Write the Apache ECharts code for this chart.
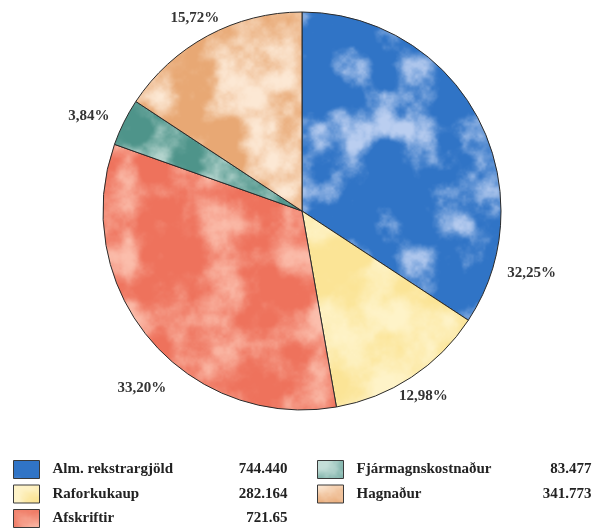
<!DOCTYPE html>
<html>
<head>
<meta charset="utf-8">
<script src="https://cdn.jsdelivr.net/npm/echarts@6/dist/echarts.min.js"></script>
<style>
html,body{margin:0;padding:0;background:#fff;}
#chart{width:600px;height:529px;}
</style>
</head>
<body>
<div id="chart"></div>
<script>
// ---- data ----
const categories = ['Alm. rekstrargjöld', 'Raforkukaup', 'Afskriftir', 'Fjármagnskostnaður', 'Hagnaður'];
const values = [744440, 282164, 721650, 83477, 341773];
const valueLabels = ['744.440', '282.164', '721.65', '83.477', '341.773'];
const percentLabels = ['32,25%', '12,98%', '33,20%', '3,84%', '15,72%'];
const legendCol1 = ['Alm. rekstrargjöld', 'Raforkukaup', 'Afskriftir'];
const legendCol2 = ['Fjármagnskostnaður', 'Hagnaður'];

// ---- styling ----
const palette = [
  {base: [48, 116, 198], light: [186, 206, 240], lo: 0.46, hi: 0.82, freq: 6},
  {base: [251, 228, 150], light: [254, 243, 200], lo: 0.36, hi: 0.80, freq: 6},
  {base: [238, 114, 92], light: [251, 190, 172], lo: 0.34, hi: 0.80, freq: 6},
  {base: [78, 148, 138], light: [196, 222, 216], lo: 0.36, hi: 0.80, freq: 6},
  {base: [232, 168, 116], light: [252, 232, 212], lo: 0.38, hi: 0.80, freq: 6}
];
const labelOffsets = [[29, 170], [-4, -5], [14, 30], [-9, 7], [1, 8]];
const FONT = '"Liberation Serif", "DejaVu Serif", serif';

function makeCloud(p, seed) {
  const S = 192;
  const c = document.createElement('canvas');
  c.width = c.height = S;
  const ctx = c.getContext('2d');
  const img = ctx.createImageData(S, S);
  function hash(x, y, per) {
    x = ((x % per) + per) % per; y = ((y % per) + per) % per;
    let h = Math.imul(x, 374761393) ^ Math.imul(y, 668265263) ^ Math.imul(seed + 1, 144665);
    h = Math.imul(h ^ (h >>> 13), 1274126177);
    h = h ^ (h >>> 16);
    return (h >>> 0) / 4294967295;
  }
  function noise(x, y, per) {
    const xi = Math.floor(x), yi = Math.floor(y);
    const xf = x - xi, yf = y - yi;
    const u = xf * xf * (3 - 2 * xf), v = yf * yf * (3 - 2 * yf);
    const a = hash(xi, yi, per), b = hash(xi + 1, yi, per), c2 = hash(xi, yi + 1, per), d = hash(xi + 1, yi + 1, per);
    return a + (b - a) * u + (c2 - a) * v + (a - b - c2 + d) * u * v;
  }
  for (let y = 0; y < S; y++) {
    for (let x = 0; x < S; x++) {
      let n = 0, amp = 0.5, f = p.freq, tot = 0;
      for (let o = 0; o < 5; o++) {
        n += amp * noise(x / S * f, y / S * f, f);
        tot += amp; amp *= 0.45; f *= 2;
      }
      n /= tot;
      let t = (n - p.lo) / (p.hi - p.lo);
      t = Math.max(0, Math.min(1, t));
      t = t * t * (3 - 2 * t);
      const i = (y * S + x) * 4;
      img.data[i] = p.base[0] + (p.light[0] - p.base[0]) * t;
      img.data[i + 1] = p.base[1] + (p.light[1] - p.base[1]) * t;
      img.data[i + 2] = p.base[2] + (p.light[2] - p.base[2]) * t;
      img.data[i + 3] = 255;
    }
  }
  ctx.putImageData(img, 0, 0);
  return c;
}

const patterns = palette.map((p, i) => ({image: makeCloud(p, i * 7 + 3), repeat: 'repeat'}));

const chart = echarts.init(document.getElementById('chart'), null, {renderer: 'canvas'});

const legendRich = {
  s: {width: 8, fontSize: 15},
  n: {width: 170, fontSize: 15, fontWeight: 'bold', fontFamily: FONT, color: '#222', lineHeight: 18},
  v: {width: 65, align: 'right', fontSize: 15, fontWeight: 'bold', fontFamily: FONT, color: '#222', lineHeight: 18}
};
function legendFormatter(name) {
  const i = categories.indexOf(name);
  return '{s| }{n|' + name + '}{v|' + valueLabels[i] + '}';
}
const legendBase = {
  orient: 'vertical',
  icon: 'rect',
  itemWidth: 26,
  itemHeight: 18,
  itemGap: 5.5,
  top: 460,
  padding: 0,
  height: 69,
  formatter: legendFormatter,
  selectedMode: false,
  textStyle: {rich: legendRich, fontFamily: FONT},
  itemStyle: {borderColor: '#3a3a3a', borderWidth: 1}
};

chart.setOption({
  animation: false,
  legend: [
    Object.assign({}, legendBase, {left: 13, data: legendCol1}),
    Object.assign({}, legendBase, {left: 317, data: legendCol2})
  ],
  series: [
    {
      type: 'pie',
      center: [302, 211],
      radius: 199,
      startAngle: 90,
      clockwise: true,
      silent: true,
      avoidLabelOverlap: false,
      label: {show: false},
      labelLine: {show: false},
      itemStyle: {borderColor: '#2a2a2a', borderWidth: 1},
      emphasis: {disabled: true},
      data: categories.map((name, i) => ({name: name, value: values[i], itemStyle: {color: patterns[i]}}))
    },
    {
      type: 'pie',
      center: [302, 211],
      radius: [210, 240],
      startAngle: 90,
      clockwise: true,
      silent: true,
      avoidLabelOverlap: false,
      itemStyle: {color: 'rgba(0,0,0,0)', borderWidth: 0},
      emphasis: {disabled: true},
      labelLine: {show: false},
      label: {
        show: true,
        position: 'inside',
        fontFamily: FONT,
        fontWeight: 'bold',
        fontSize: 15,
        color: '#333'
      },
      data: categories.map((name, i) => ({
        name: name,
        value: values[i],
        label: {formatter: percentLabels[i], offset: labelOffsets[i]}
      }))
    }
  ]
});
</script>
</body>
</html>
